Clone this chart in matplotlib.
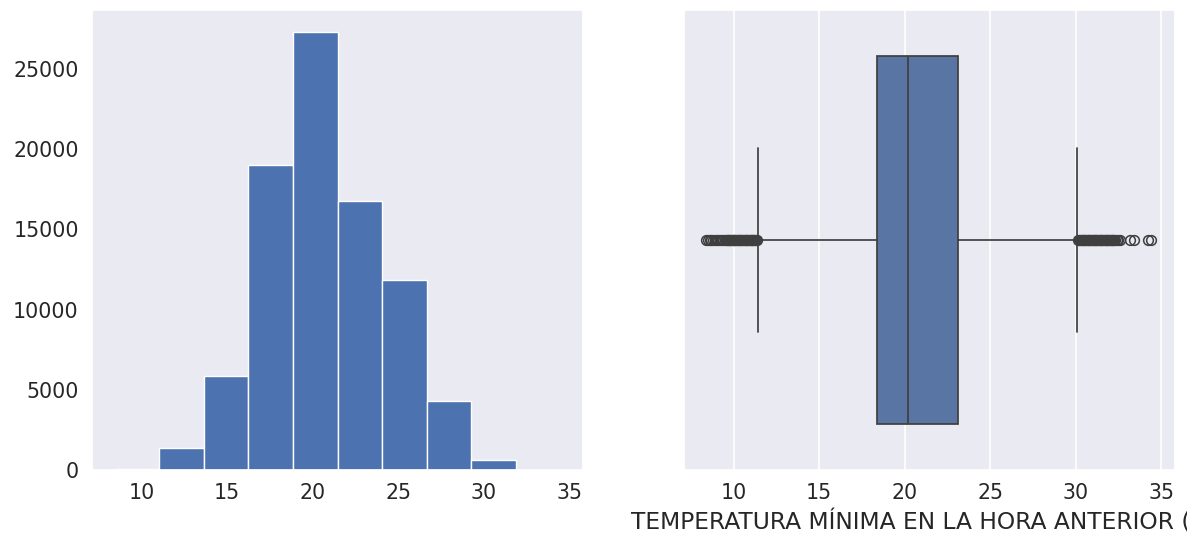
import matplotlib
matplotlib.use("Agg")
import matplotlib.pyplot as plt
import numpy as np
import seaborn as sns

# histogram of the minimum temperature (10 bins)
bin_edges = [8.4, 11.01, 13.62, 16.23, 18.84, 21.45, 24.06, 26.67, 29.28, 31.89, 34.5]
bin_counts = [80, 1390, 5860, 19020, 27300, 16770, 11850, 4320, 640, 15]

# box plot summary
box_q1 = 18.4
box_median = 20.2
box_q3 = 23.1
whisker_low = 11.4
whisker_high = 30.1
fliers_low = [8.4, 8.5, 8.6, 8.7, 8.8, 8.9, 9.0, 9.1, 9.2, 9.3, 9.4, 9.5, 9.55,
              9.6, 9.65, 9.7, 9.75, 9.8, 9.85, 9.9, 9.95, 10.0, 10.05, 10.1,
              10.15, 10.2, 10.25, 10.3, 10.35, 10.4, 10.45, 10.5, 10.55, 10.6,
              10.65, 10.7, 10.75, 10.8, 10.85, 10.9, 10.95, 11.0, 11.05, 11.1,
              11.15, 11.2, 11.25, 11.3, 11.35]
fliers_high = [30.15, 30.2, 30.25, 30.3, 30.35, 30.4, 30.45, 30.5, 30.55, 30.6,
               30.65, 30.7, 30.75, 30.8, 30.85, 30.9, 30.95, 31.0, 31.05, 31.1,
               31.15, 31.2, 31.25, 31.3, 31.35, 31.4, 31.45, 31.5, 31.55, 31.6,
               31.65, 31.7, 31.75, 31.8, 31.85, 31.9, 31.95, 32.0, 32.05, 32.1,
               32.15, 32.2, 32.25, 32.3, 32.4, 32.5, 32.6, 33.2, 33.4, 34.2, 34.4]

xlabel = "TEMPERATURA MÍNIMA EN LA HORA ANTERIOR (°C)"

sns.set_theme(style="darkgrid")
plt.rcParams["font.family"] = ["DejaVu Sans"]

fig = plt.figure(figsize=(11.87, 5.44), dpi=100)
ax1 = fig.add_axes([0.0775, 0.136, 0.4137, 0.8456])
ax2 = fig.add_axes([0.5762, 0.136, 0.4137, 0.8456])

centers = [(a + b) / 2 for a, b in zip(bin_edges[:-1], bin_edges[1:])]
ax1.hist(centers, bins=bin_edges, weights=bin_counts, color="#4c72b0",
         edgecolor="white", linewidth=1.0)
ax1.grid(False)
ax1.set_xticks([10, 15, 20, 25, 30, 35])
ax1.tick_params(labelsize=14.8, colors="#262626")

stats = [{
    "med": box_median, "q1": box_q1, "q3": box_q3,
    "whislo": whisker_low, "whishi": whisker_high,
    "fliers": np.array(fliers_low + fliers_high),
}]
line_kw = dict(color="#3f3f3f", linewidth=1.25)
ax2.bxp(stats, positions=[0], widths=0.8, capwidths=0.4,
        orientation="horizontal", patch_artist=True,
        boxprops=dict(facecolor="#5875a4", edgecolor="#3f3f3f", linewidth=1.25),
        medianprops=line_kw, whiskerprops=line_kw, capprops=line_kw,
        flierprops=dict(marker="o", markerfacecolor="none",
                        markeredgecolor="#3f3f3f", markersize=7,
                        markeredgewidth=1.1))
ax2.set_ylim(0.5, -0.5)
ax2.set_yticks([])
ax2.set_xlim(ax1.get_xlim())
ax2.set_xticks([10, 15, 20, 25, 30, 35])
ax2.grid(axis="x", color="white", linewidth=1.2)
ax2.grid(axis="y", visible=False)
ax2.tick_params(labelsize=14.8, colors="#262626")
ax2.set_xlabel(xlabel, fontsize=16.8, color="#262626", labelpad=5.5)

fig.savefig("out.png", dpi=100)
plt.close(fig)
